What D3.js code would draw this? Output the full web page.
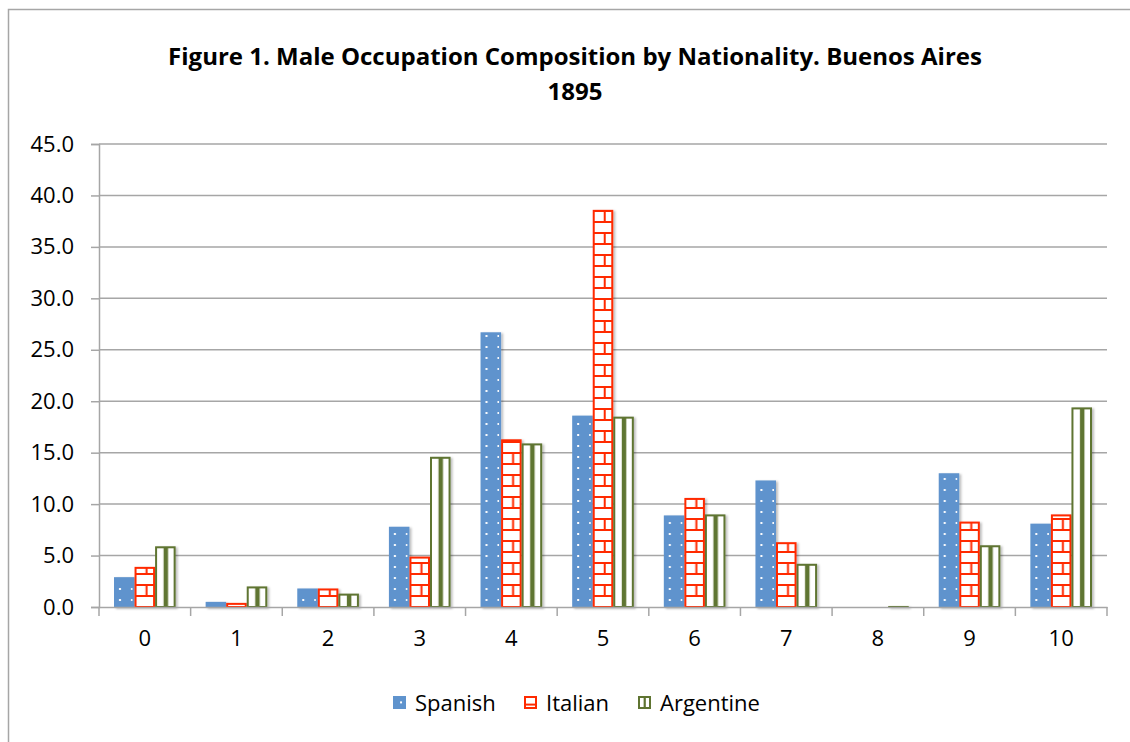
<!DOCTYPE html>
<html>
<head>
<meta charset="utf-8">
<script src="https://cdn.jsdelivr.net/npm/d3@7"></script>
<style>
	body { margin: 0; background: #fff; }
	text { font-family: "Open Sans", "Noto Sans", sans-serif; }
</style>
</head>
<body>
<div id="chart"></div>
<script>
// Data
const categories = ["0", "1", "2", "3", "4", "5", "6", "7", "8", "9", "10"];
const seriesNames = ["Spanish", "Italian", "Argentine"];
const spanish   = [2.9, 0.5, 1.8, 7.8, 26.7, 18.6, 8.9, 12.3, 0.0, 13.0, 8.1];
const italian   = [3.9, 0.4, 1.8, 4.9, 16.3, 38.6, 10.6, 6.3, 0.0, 8.3, 9.0];
const argentine = [5.9, 2.0, 1.3, 14.6, 15.9, 18.5, 9.0, 4.2, 0.1, 6.0, 19.4];
const yTicks = [0, 5, 10, 15, 20, 25, 30, 35, 40, 45];

const values = [spanish, italian, argentine];

// Dimensions
const W = 1130, H = 742;
const margin = {top: 144, right: 23, bottom: 135, left: 99};
const width = W - margin.left - margin.right;
const height = H - margin.top - margin.bottom;

const blue = "#5f93cd", red = "#ff2a00", green = "#5f7431";

const svg = d3.select("#chart").append("svg")
	.attr("width", W)
	.attr("height", H);

// Scales
const x = d3.scaleBand()
	.domain(categories)
	.range([0, width]);
const y = d3.scaleLinear()
	.domain([0, 45])
	.range([height, 0]);
const barGroupPad = 15;
const xs = d3.scaleBand()
	.domain(seriesNames)
	.range([barGroupPad, x.bandwidth() - barGroupPad]);
const bw = xs.bandwidth();

// Patterns (period = one category step so every bar gets the same alignment)
const defs = svg.append("defs");
const step = x.step();

let pSpan = defs.append("pattern")
	.attr("id", "patSpanish")
	.attr("patternUnits", "userSpaceOnUse")
	.attr("width", step).attr("height", 11);
pSpan.append("rect").attr("width", step).attr("height", 11).attr("fill", blue);
[5, 17].forEach(dx => {
	pSpan.append("rect")
		.attr("x", xs("Spanish") + dx).attr("y", 4)
		.attr("width", 2).attr("height", 2).attr("fill", "#fff");
});

let pIt = defs.append("pattern")
	.attr("id", "patItalian")
	.attr("patternUnits", "userSpaceOnUse")
	.attr("width", step).attr("height", 22);
pIt.append("rect").attr("width", step).attr("height", 22).attr("fill", "#fff");
pIt.append("rect").attr("y", 0).attr("width", step).attr("height", 2).attr("fill", red);
pIt.append("rect").attr("y", 11).attr("width", step).attr("height", 2).attr("fill", red);
pIt.append("rect").attr("x", xs("Italian") + 11).attr("y", 0)
	.attr("width", 2).attr("height", 11).attr("fill", red);

let pArg = defs.append("pattern")
	.attr("id", "patArgentine")
	.attr("patternUnits", "userSpaceOnUse")
	.attr("width", step).attr("height", 10);
pArg.append("rect").attr("width", step).attr("height", 10).attr("fill", "#fff");
pArg.append("rect").attr("x", xs("Argentine") + 8.5).attr("width", 4.5).attr("height", 10).attr("fill", green);

// Legend patterns
let lSpan = defs.append("pattern").attr("id", "legSpanish")
	.attr("patternUnits", "objectBoundingBox").attr("patternContentUnits", "objectBoundingBox")
	.attr("width", 1).attr("height", 1);
lSpan.append("rect").attr("width", 1).attr("height", 1).attr("fill", blue);
lSpan.append("rect").attr("x", 0.55).attr("y", 0.4).attr("width", 0.18).attr("height", 0.18).attr("fill", "#fff");

let lIt = defs.append("pattern").attr("id", "legItalian")
	.attr("patternUnits", "objectBoundingBox").attr("patternContentUnits", "objectBoundingBox")
	.attr("width", 1).attr("height", 1);
lIt.append("rect").attr("width", 1).attr("height", 1).attr("fill", "#fff");
lIt.append("rect").attr("y", 0.6).attr("width", 1).attr("height", 0.18).attr("fill", red);

let lArg = defs.append("pattern").attr("id", "legArgentine")
	.attr("patternUnits", "objectBoundingBox").attr("patternContentUnits", "objectBoundingBox")
	.attr("width", 1).attr("height", 1);
lArg.append("rect").attr("width", 1).attr("height", 1).attr("fill", "#fff");
lArg.append("rect").attr("x", 0.42).attr("width", 0.2).attr("height", 1).attr("fill", green);

const fills = ["url(#patSpanish)", "url(#patItalian)", "url(#patArgentine)"];
const legFills = ["url(#legSpanish)", "url(#legItalian)", "url(#legArgentine)"];
const strokes = [blue, red, green];

let shadow = defs.append("filter").attr("id", "shadow")
	.attr("x", "-20%").attr("y", "-20%").attr("width", "160%").attr("height", "140%");
shadow.append("feDropShadow")
	.attr("dx", 2).attr("dy", 1).attr("stdDeviation", 1.2)
	.attr("flood-color", "#000").attr("flood-opacity", 0.25);

// Outer border
svg.append("path")
	.attr("d", "M8.5," + (H + 2) + " L8.5,9.5 L" + (W + 2) + ",9.5")
	.attr("fill", "none")
	.attr("stroke", "#a6a6a6")
	.attr("stroke-width", 1.5);

// Title
const title = svg.append("text")
	.attr("text-anchor", "middle")
	.style("font-weight", 700)
	.style("font-size", "24px")
	.attr("fill", "#000");
title.append("tspan").attr("x", 575).attr("y", 65)
	.text("Figure 1. Male Occupation Composition by Nationality. Buenos Aires");
title.append("tspan").attr("x", 575).attr("y", 100).text("1895");

const g = svg.append("g")
	.attr("transform", "translate(" + margin.left + "," + margin.top + ")");

// Gridlines
g.append("g")
	.selectAll("line")
	.data(yTicks.slice(1))
	.join("line")
		.attr("x1", 0)
		.attr("x2", width)
		.attr("y1", d => y(d))
		.attr("y2", d => y(d))
		.attr("stroke", "#a6a6a6")
		.attr("stroke-width", 1.5);

// Y axis
const yAxis = g.append("g")
	.call(d3.axisLeft(y).tickValues(yTicks).tickFormat(d3.format(".1f")).tickSize(8).tickPadding(17));
yAxis.select(".domain").attr("stroke", "#a6a6a6").attr("stroke-width", 1.5);
yAxis.selectAll(".tick line").attr("stroke", "#a6a6a6").attr("stroke-width", 1.5);
yAxis.selectAll(".tick text")
	.style("font-size", "22px")
	.attr("fill", "#000")
	.attr("font-family", "'Open Sans', sans-serif");

// Bars
seriesNames.forEach((s, si) => {
	g.append("g")
		.attr("filter", "url(#shadow)")
		.selectAll("rect")
		.data(values[si])
		.join("rect")
			.attr("x", (d, i) => x(categories[i]) + xs(s) + 1)
			.attr("y", d => y(d) + 1)
			.attr("width", bw - 2)
			.attr("height", d => Math.max(0, y(0) - y(d) - 1))
			.attr("fill", fills[si])
			.attr("stroke", strokes[si])
			.attr("stroke-width", d => d > 0 ? 2 : 0);
});

// X axis
const xAxis = g.append("g")
	.attr("transform", "translate(0," + height + ")")
	.call(d3.axisBottom(x).tickSize(0).tickPadding(23));
xAxis.select(".domain").attr("stroke", "#a6a6a6").attr("stroke-width", 1.5);
xAxis.selectAll(".tick text")
	.style("font-size", "22px")
	.attr("fill", "#000")
	.attr("font-family", "'Open Sans', sans-serif");
g.append("g")
	.selectAll("line")
	.data(d3.range(categories.length + 1))
	.join("line")
		.attr("x1", i => i * step)
		.attr("x2", i => i * step)
		.attr("y1", height)
		.attr("y2", height + 9)
		.attr("stroke", "#a6a6a6")
		.attr("stroke-width", 1.5);

// Legend
const legendPos = [393, 524, 638];
const legend = svg.append("g");
seriesNames.forEach((s, si) => {
	legend.append("rect")
		.attr("x", legendPos[si] + 1)
		.attr("y", 697)
		.attr("width", 11)
		.attr("height", 11)
		.attr("fill", legFills[si])
		.attr("stroke", strokes[si])
		.attr("stroke-width", 2);
	legend.append("text")
		.attr("x", legendPos[si] + 22)
		.attr("y", 711)
		.style("font-size", "22px")
		.attr("fill", "#000")
		.text(s);
});
</script>
</body>
</html>
